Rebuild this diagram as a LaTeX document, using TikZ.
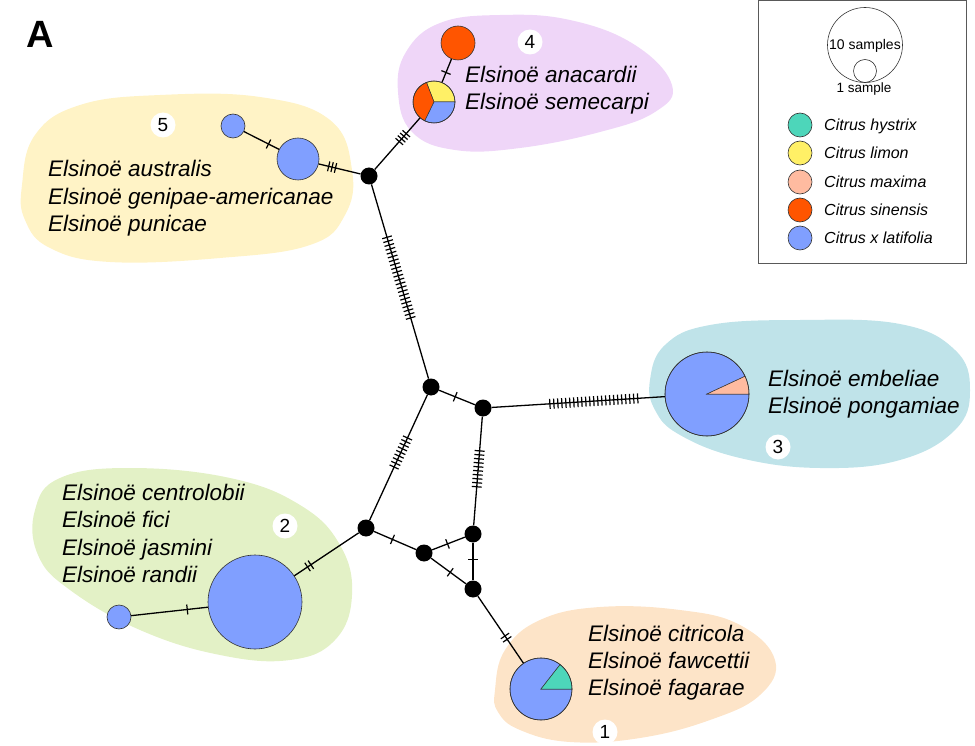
\documentclass[tikz,border=0pt]{standalone}
\usepackage{fontspec}
\setmainfont{Liberation Sans}
\usetikzlibrary{decorations.markings,calc}
\definecolor{clat}{HTML}{809FFF}
\definecolor{csin}{HTML}{FF5500}
\definecolor{clim}{HTML}{FFF066}
\definecolor{cmax}{HTML}{FFBBA0}
\definecolor{chys}{HTML}{4DD6BA}
\definecolor{bgfour}{HTML}{EFD6F8}
\definecolor{bgfive}{HTML}{FFF3C6}
\definecolor{bgthree}{HTML}{BFE3E9}
\definecolor{bgtwo}{HTML}{E3F1C6}
\definecolor{bgone}{HTML}{FDE4C8}
\definecolor{outl}{HTML}{333333}
\tikzset{
 edge/.style={draw=black, line width=1.3pt},
 hub/.style={circle, fill=black, inner sep=0pt, minimum size=17pt},
 hap/.style={circle, draw=outl, line width=0.6pt, inner sep=0pt, minimum size=#1},
 sect/.style={draw=outl, line width=0.5pt},
 num/.style={circle, fill=white, inner sep=0pt, minimum size=25pt, font=\fontsize{19}{19}\selectfont},
 sp/.style={anchor=base west, inner sep=0pt, font=\fontsize{22.5}{27}\selectfont\itshape},
 lg/.style={anchor=base west, inner sep=0pt, font=\fontsize{16}{16}\selectfont\itshape},
 mt/.style n args={3}{postaction={decorate, decoration={markings, mark=at position #2 with {\foreach \i in {1,...,#1}{\draw[line width=1.2pt] ({((\i-(#1+1)/2)*#3)*1pt},-5pt) -- ({((\i-(#1+1)/2)*#3)*1pt},5pt);}}}}},
}
\begin{document}
\begin{tikzpicture}[x=1pt,y=-1pt]
\useasboundingbox (0,0) rectangle (975,746);
% background blobs
\fill[bgfour] plot[smooth cycle, tension=0.7] coordinates {(398,92) (406,52) (440,23) (500,15) (570,20) (635,45) (672,85) (655,112) (600,132) (520,148) (455,150) (412,132)};
\fill[bgfive] plot[smooth cycle, tension=0.7] coordinates {(22,185) (35,135) (80,105) (160,95) (260,97) (330,120) (352,170) (345,215) (310,245) (220,258) (110,262) (50,248) (25,220)};
\fill[bgthree] plot[smooth cycle, tension=0.7] coordinates {(650,380) (665,345) (710,325) (800,320) (900,324) (955,350) (970,390) (955,430) (900,460) (820,468) (740,458) (680,435) (655,410)};
\fill[bgtwo] plot[smooth cycle, tension=0.7] coordinates {(35,510) (60,478) (130,468) (230,478) (300,505) (340,545) (352,595) (335,640) (290,660) (220,655) (140,630) (70,590) (38,555)};
\fill[bgone] plot[smooth cycle, tension=0.7] coordinates {(495,690) (505,650) (540,620) (600,607) (680,610) (740,625) (775,660) (760,695) (710,720) (640,738) (570,742) (520,730) (498,712)};
% label A
\node[font=\fontsize{38}{38}\selectfont\bfseries, inner sep=0pt] (lblA) at (40,34) {A};
% pie sectors
\coordinate (c4) at (434,102);
\filldraw[fill=clim, sect] (c4) -- ++(0:21pt) arc[start angle=0, end angle=111, radius=21pt] -- cycle;
\filldraw[fill=csin, sect] (c4) -- ++(111:21pt) arc[start angle=111, end angle=244, radius=21pt] -- cycle;
\filldraw[fill=clat, sect] (c4) -- ++(244:21pt) arc[start angle=244, end angle=360, radius=21pt] -- cycle;
\coordinate (c3) at (707,394);
\filldraw[fill=clat, sect] (c3) -- ++(25:42pt) arc[start angle=25, end angle=360, radius=42pt] -- cycle;
\filldraw[fill=cmax, sect] (c3) -- ++(0:42pt) arc[start angle=0, end angle=25, radius=42pt] -- cycle;
\coordinate (c1) at (541,689);
\filldraw[fill=clat, sect] (c1) -- ++(52:31pt) arc[start angle=52, end angle=360, radius=31pt] -- cycle;
\filldraw[fill=chys, sect] (c1) -- ++(0:31pt) arc[start angle=0, end angle=52, radius=31pt] -- cycle;
% haplotype nodes
\node[hap=34pt, fill=csin] (h4a) at (458,43) {};
\node[hap=42pt] (h4b) at (c4) {};
\node[hap=24pt, fill=clat] (h5a) at (233,126) {};
\node[hap=42pt, fill=clat] (h5b) at (298,159) {};
\node[hap=84pt] (h3) at (c3) {};
\node[hap=24pt, fill=clat] (h2a) at (119,617) {};
\node[hap=94pt, fill=clat] (h2b) at (255,602) {};
\node[hap=62pt] (h1) at (c1) {};
% hubs
\node[hub] (n1) at (369,176) {};
\node[hub] (n2) at (431,387) {};
\node[hub] (n3) at (483,408) {};
\node[hub] (n4) at (366,528) {};
\node[hub] (n5) at (424,553) {};
\node[hub] (n6) at (473,534) {};
\node[hub] (n7) at (473,589) {};
% edges
\draw[edge, mt={1}{0.58}{4}] (h4a) -- (h4b);
\draw[edge, mt={4}{0.62}{3.5}] (n1) -- (h4b);
\draw[edge, mt={1}{0.70}{4}] (h5a) -- (h5b);
\draw[edge, mt={3}{0.32}{3.5}] (h5b) -- (n1);
\draw[edge, mt={22}{0.48}{4}] (n1) -- (n2);
\draw[edge, mt={1}{0.45}{4}] (n2) -- (n3);
\draw[edge, mt={23}{0.59}{4}] (n3) -- (h3);
\draw[edge, mt={9}{0.46}{4}] (n2) -- (n4);
\draw[edge, mt={10}{0.48}{4}] (n3) -- (n6);
\draw[edge, mt={2}{0.77}{4}] (n4) -- (h2b);
\draw[edge, mt={1}{0.73}{4}] (h2a) -- (h2b);
\draw[edge, mt={1}{0.44}{4}] (n4) -- (n5);
\draw[edge, mt={1}{0.47}{4}] (n5) -- (n6);
\draw[edge, mt={1}{0.44}{4}] (n6) -- (n7);
\draw[edge, mt={1}{0.55}{4}] (n5) -- (n7);
\draw[edge, mt={2}{0.62}{4}] (n7) -- (h1);
% group numbers
\node[num] (g4) at (530,42) {4};
\node[num] (g5) at (163,125) {5};
\node[num] (g3) at (778,447) {3};
\node[num] (g2) at (285,526) {2};
\node[num] (g1) at (605,732) {1};
% species texts
\node[sp] (t4a) at (465,83) {Elsinoë anacardii};
\node[sp] (t4b) at (465,110) {Elsinoë semecarpi};
\node[sp] (t5a) at (48,177) {Elsinoë australis};
\node[sp] (t5b) at (48,204.5) {Elsinoë genipae-americanae};
\node[sp] (t5c) at (48,232) {Elsinoë punicae};
\node[sp] (t3a) at (768,386) {Elsinoë embeliae};
\node[sp] (t3b) at (768,413) {Elsinoë pongamiae};
\node[sp] (t2a) at (62,500) {Elsinoë centrolobii};
\node[sp] (t2b) at (62,527.5) {Elsinoë fici};
\node[sp] (t2c) at (62,555) {Elsinoë jasmini};
\node[sp] (t2d) at (62,582.5) {Elsinoë randii};
\node[sp] (t1a) at (588,641) {Elsinoë citricola};
\node[sp] (t1b) at (588,668) {Elsinoë fawcettii};
\node[sp] (t1c) at (588,695) {Elsinoë fagarae};
% legend
\draw[draw=black!65, line width=1pt] (758,1) rectangle (966,264);
\node[circle, draw=outl, line width=0.6pt, minimum size=75pt, inner sep=0pt] (lbig) at (865,45) {};
\node[circle, draw=outl, line width=0.6pt, minimum size=23pt, inner sep=0pt] (lsmall) at (865,71) {};
\node[anchor=base, inner sep=0pt, font=\fontsize{14}{14}\selectfont] (lt10) at (865,50) {10 samples};
\node[anchor=base, inner sep=0pt, font=\fontsize{13.5}{13.5}\selectfont] (lt1) at (864,93) {1 sample};
\node[hap=24pt, fill=chys] (lc1) at (800,125) {};
\node[hap=24pt, fill=clim] (lc2) at (800,153) {};
\node[hap=24pt, fill=cmax] (lc3) at (800,182) {};
\node[hap=24pt, fill=csin] (lc4) at (800,210) {};
\node[hap=24pt, fill=clat] (lc5) at (800,238) {};
\node[lg] (ll1) at (824,131) {Citrus hystrix};
\node[lg] (ll2) at (824,159) {Citrus limon};
\node[lg] (ll3) at (824,188) {Citrus maxima};
\node[lg] (ll4) at (824,216) {Citrus sinensis};
\node[lg] (ll5) at (824,244) {Citrus x latifolia};
\end{tikzpicture}
\end{document}
